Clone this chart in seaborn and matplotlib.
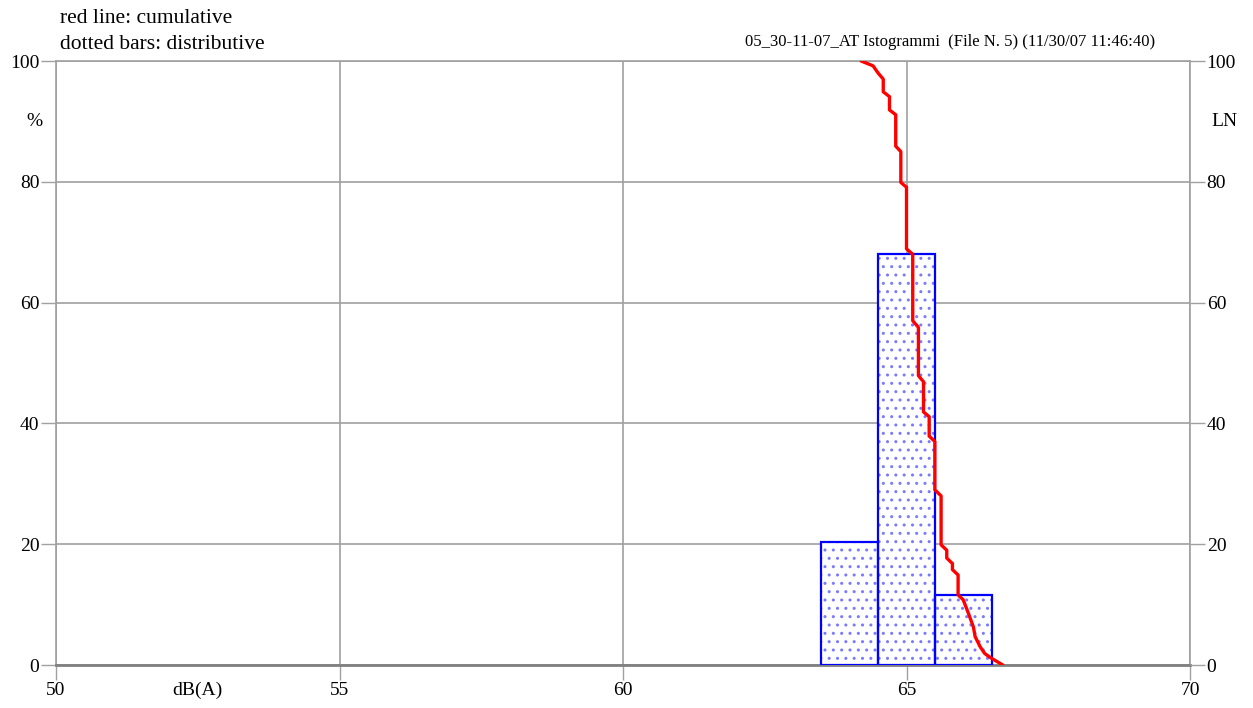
import matplotlib

matplotlib.use("Agg")
import matplotlib.pyplot as plt
import seaborn as sns

# distributive histogram (1 dB classes)
bin_edges = [63.5, 64.5, 65.5, 66.5]
bin_centers = [64.0, 65.0, 66.0]
distributive = [20.4, 68.0, 11.6]

# cumulative curve (dB(A), % exceeded)
cum_db = [64.20, 64.41, 64.50, 64.59, 64.59, 64.70, 64.70, 64.81, 64.81, 64.90,
          64.90, 65.00, 65.00, 65.11, 65.11, 65.21, 65.21, 65.30, 65.30, 65.40,
          65.40, 65.50, 65.50, 65.61, 65.61, 65.71, 65.71, 65.81, 65.81, 65.91,
          65.91, 66.00, 66.09, 66.18, 66.21, 66.30, 66.38, 66.50, 66.70]
cum_pct = [100.0, 99.2, 98.0, 97.0, 94.9, 94.1, 91.9, 91.1, 85.9, 85.0,
           79.9, 79.1, 68.9, 68.0, 57.0, 55.9, 47.9, 46.9, 41.9, 41.1,
           37.9, 37.0, 29.0, 28.0, 19.9, 19.0, 17.7, 16.8, 15.8, 14.9,
           11.6, 10.8, 8.6, 6.3, 4.7, 3.0, 1.9, 1.1, 0.0]

x_ticks = [50, 55, 60, 65, 70]
y_ticks = [0, 20, 40, 60, 80, 100]
title = "05_30-11-07_AT Istogrammi  (File N. 5) (11/30/07 11:46:40)"
notes = ["red line: cumulative", "dotted bars: distributive"]

sns.set_theme(style="white")
plt.rcParams["font.family"] = ["Liberation Serif", "DejaVu Serif"]
plt.rcParams["text.color"] = "black"
plt.rcParams["hatch.linewidth"] = 1.0

W, H = 1253, 708
fig = plt.figure(figsize=(W / 100, H / 100), dpi=100)
ax = fig.add_axes([56 / W, 1 - 665 / H, (1190 - 56) / W, (665 - 61) / H])

# dotted fill, then the solid blue outline on top
sns.histplot(x=bin_centers, weights=distributive, bins=bin_edges, ax=ax,
             color="white", edgecolor="#7a7aff", linewidth=0, alpha=1,
             hatch="..", zorder=3)
sns.histplot(x=bin_centers, weights=distributive, bins=bin_edges, ax=ax,
             fill=False, color="#0000ff", edgecolor="#0000ff", linewidth=1.6,
             zorder=3)
sns.lineplot(x=cum_db, y=cum_pct, sort=False, estimator=None, color="#ff0000",
             linewidth=2.4, ax=ax, zorder=4)

grid_c = "#a0a0a0"
ax.set_xlim(50, 70)
ax.set_ylim(0, 100)
ax.set_xticks(x_ticks)
ax.set_yticks(y_ticks)
ax.set_xlabel("")
ax.set_ylabel("")
ax.grid(True, color=grid_c, linewidth=1.2, zorder=0)
ax.set_axisbelow(True)
for sp in ax.spines.values():
    sp.set_color(grid_c)
    sp.set_linewidth(1.2)
ax.spines["bottom"].set_color("#808080")
ax.spines["bottom"].set_linewidth(2)
ax.tick_params(axis="both", direction="out", length=11, width=1, color=grid_c,
               labelsize=14, labelcolor="black", pad=1, left=True, bottom=True)

ax2 = ax.twinx()
ax2.set_ylim(0, 100)
ax2.set_yticks(y_ticks)
ax2.grid(False)
for sp in ax2.spines.values():
    sp.set_visible(False)
ax2.tick_params(axis="y", direction="out", length=11, width=1, color=grid_c,
                labelsize=14, labelcolor="black", pad=1, right=True)

ax.text(-0.0194, 90, "%", transform=ax.get_yaxis_transform(), ha="center",
        va="center", fontsize=14)
ax.text(1.030, 90, "LN", transform=ax.get_yaxis_transform(), ha="center",
        va="center", fontsize=14)
ax.text(52.5, -0.042, "dB(A)", transform=ax.get_xaxis_transform(), ha="center",
        va="center", fontsize=14)

fig.text(60 / W, 1 - 23 / H, notes[0], ha="left", va="baseline", fontsize=15.5)
fig.text(60 / W, 1 - 49 / H, notes[1], ha="left", va="baseline", fontsize=15.5)
fig.text(1155 / W, 1 - 46 / H, title, ha="right", va="baseline", fontsize=12)

fig.savefig("out.png", dpi=100)
